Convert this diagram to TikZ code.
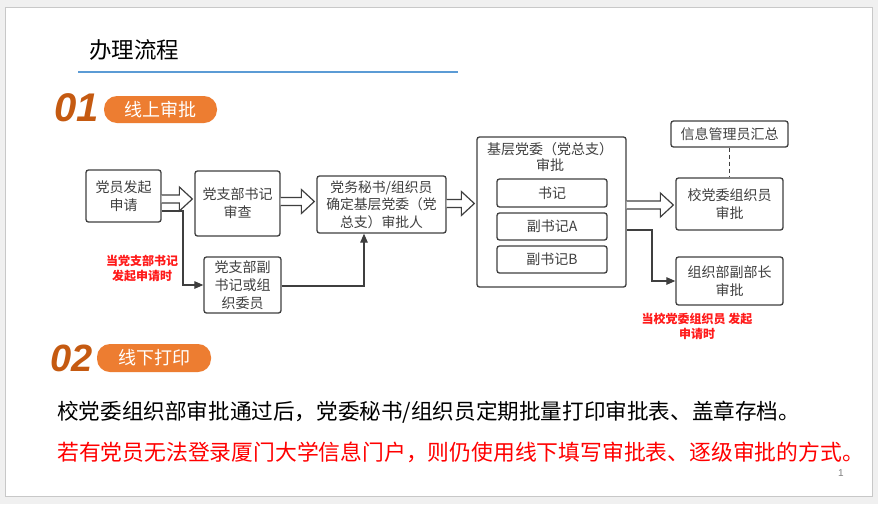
\documentclass[tikz,border=0pt]{standalone}
\usepackage{fontspec}
\setmainfont{Noto Sans CJK SC}
\newfontfamily\numfont{Liberation Sans}
\usetikzlibrary{arrows.meta,calc}
\definecolor{boxgray}{HTML}{3F3F3F}
\definecolor{accent}{HTML}{ED7D31}
\definecolor{numcol}{HTML}{C55A11}
\definecolor{lineblue}{HTML}{5B9BD5}
\definecolor{redtxt}{HTML}{FF1A1A}
\definecolor{outerbg}{HTML}{F0F0F0}
\definecolor{framecol}{HTML}{C8C8C8}
\tikzset{
  box/.style={draw=boxgray, line width=1.3pt, rounded corners=2.5pt, fill=white,
    text=boxgray, align=center, inner sep=0pt, font=\fontsize{14}{18}\selectfont},
  harr/.style={draw=boxgray, line width=1.2pt, fill=white, line join=miter},
  conn/.style={draw=boxgray, line width=1.2pt, -{Triangle[length=9pt,width=7.5pt]}},
  pill/.style={fill=accent, rounded corners=13pt, text=white, inner sep=0pt,
    font=\fontsize{18}{20}\selectfont},
  num/.style={text=numcol, font=\numfont\bfseries\itshape\fontsize{40}{40}\selectfont, inner sep=0pt},
  redlabel/.style={text=redtxt, align=center, inner sep=0pt, font=\bfseries\fontsize{12}{15}\selectfont}
}
\newcommand\harrow[3]{%
  \draw[harr] ($(#1.east|-0,#3)+(0,-4)$) -- ($(#2.west|-0,#3)+(-15,-4)$) -- ($(#2.west|-0,#3)+(-15,-12)$)
   -- ($(#2.west|-0,#3)+(-2,0)$) -- ($(#2.west|-0,#3)+(-15,12)$) -- ($(#2.west|-0,#3)+(-15,4)$)
   -- ($(#1.east|-0,#3)+(0,4)$);}
\begin{document}
\begin{tikzpicture}[x=1pt,y=-1pt]
\useasboundingbox (0,0) rectangle (878,504);
\fill[outerbg] (0,0) rectangle (878,504);
\draw[framecol, fill=white, line width=1pt] (5,7) rectangle (872,496);

% title
\node[anchor=west, inner sep=0pt, font=\fontsize{22.5}{24}\selectfont] (title) at (89,50) {办理流程};
\draw[lineblue, line width=2pt] (78,72) -- (458,72);

% section 01
\node[num] (n01) at (77,108) {01};
\node[pill, minimum width=113pt, minimum height=27pt] (p01) at (160.5,109.5) {线上审批};

% flow boxes
\node[box, minimum width=75pt, minimum height=52pt] (b1) at (123.5,196) {党员发起\\申请};
\node[box, minimum width=85pt, minimum height=65pt] (b2) at (237.5,203.5) {党支部书记\\审查};
\node[box, minimum width=129pt, minimum height=57pt, font=\fontsize{13.8}{17.5}\selectfont] (b3) at (381.5,204.5) {党务秘书/组织员\\确定基层党委（党\\总支）审批人};
\node[box, minimum width=77pt, minimum height=56pt] (b4) at (242.5,285) {党支部副\\书记或组\\织委员};

\node[box, minimum width=149pt, minimum height=150pt] (big) at (551.5,212) {};
\node[align=center, inner sep=0pt, text=boxgray, font=\fontsize{14}{16}\selectfont] (bigt) at (550,157) {基层党委（党总支）\\审批};
\node[box, minimum width=110pt, minimum height=28pt] (s1) at (552,193) {书记};
\node[box, minimum width=110pt, minimum height=27pt] (s2) at (552,226.5) {副书记A};
\node[box, minimum width=110pt, minimum height=27pt] (s3) at (552,259.5) {副书记B};

\node[box, minimum width=117pt, minimum height=26pt] (info) at (729.5,134) {信息管理员汇总};
\node[box, minimum width=107pt, minimum height=52pt] (xd) at (729.5,204) {校党委组织员\\审批};
\node[box, minimum width=107pt, minimum height=48pt] (zz) at (729.5,281) {组织部副部长\\审批};

% hollow arrows
\harrow{b1}{b2}{199}
\harrow{b2}{b3}{201.5}
\harrow{b3}{big}{203.5}
\harrow{big}{xd}{205}

% thin connectors
\coordinate (c1) at (183,211);
\draw[conn] (b1.east|-c1) -- (c1) |- (b4.west);
\coordinate (c2) at (364,286);
\draw[conn] (b4.east|-c2) -- (c2) -- (c2|-b3.south);
\coordinate (c3) at (652,230);
\draw[conn] (big.east|-c3) -- (c3) |- (zz.west);
\draw[boxgray, line width=1.2pt, dashed, dash pattern=on 4pt off 3pt] (info.south) -- (xd.north);

% red annotations
\node[redlabel] (r1) at (142,268) {当党支部书记\\发起申请时};
\node[redlabel] (r2) at (697,326) {当校党委组织员 发起\\申请时};

% section 02
\node[num, font=\numfont\bfseries\itshape\fontsize{38}{38}\selectfont] (n02) at (72,358) {02};
\node[pill, minimum width=114pt, minimum height=28pt] (p02) at (154,358) {线下打印};

\node[anchor=west, inner sep=0pt, font=\fontsize{21.6}{24}\selectfont] (t1) at (57,412) {校党委组织部审批通过后，党委秘书/组织员定期批量打印审批表、盖章存档。};
\node[anchor=west, inner sep=0pt, text=red, font=\fontsize{21.8}{24}\selectfont] (t2) at (57,452) {若有党员无法登录厦门大学信息门户，则仍使用线下填写审批表、逐级审批的方式。};

\node[inner sep=0pt, text=gray, font=\numfont\fontsize{10}{10}\selectfont] (pg) at (841,473) {1};
\end{tikzpicture}
\end{document}
